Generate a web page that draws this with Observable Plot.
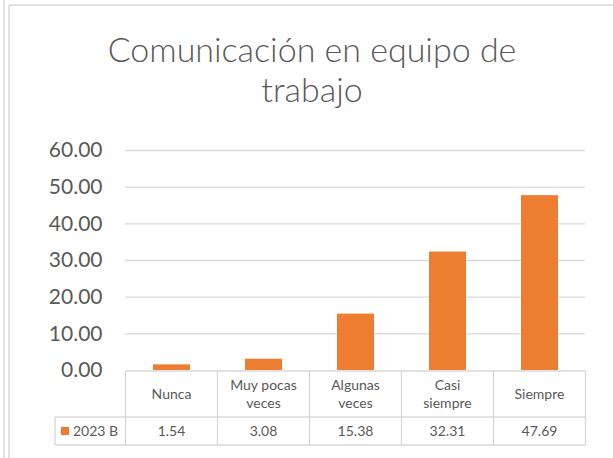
<!DOCTYPE html>
<html><head><meta charset="utf-8">
<script src="https://cdn.jsdelivr.net/npm/d3@7"></script>
<script src="https://cdn.jsdelivr.net/npm/@observablehq/plot@0.6"></script>
<style>
html,body{margin:0;padding:0;background:#fff;}
#wrap{position:relative;width:613px;height:458px;overflow:hidden;background:#fff;}
#wrap svg{display:block;}
</style></head><body><div id="wrap"></div>
<script>
const categories = ["Nunca","Muy pocas veces","Algunas veces","Casi siempre","Siempre"];
const headerLines = [["Nunca"],["Muy pocas","veces"],["Algunas","veces"],["Casi","siempre"],["Siempre"]];
const values = [1.54, 3.08, 15.38, 32.31, 47.69];
const seriesName = "2023 B";
const yTicks = [0, 10, 20, 30, 40, 50, 60];
const titleLines = ["Comunicación en equipo de", "trabajo"];

const data = categories.map((c, i) => ({category: c, value: values[i]}));
const W = 613, H = 458;
const font = "Lato, 'Open Sans', sans-serif";
const gray = "#595959", lineColor = "#d9d9d9", orange = "#ED7D31";
const fmt = d3.format(".2f");

const chart = Plot.plot({
  width: W, height: H,
  marginLeft: 125, marginRight: 28, marginTop: 150, marginBottom: 88,
  style: {fontFamily: font, background: "transparent", color: gray, fontSize: "21px"},
  x: {domain: categories, paddingInner: 0.6, paddingOuter: 0.3, axis: null},
  y: {domain: [0, 60], label: null},
  marks: [
    Plot.gridY(yTicks.filter(d => d > 0), {stroke: lineColor, strokeOpacity: 1, strokeWidth: 1.4}),
    Plot.axisY(yTicks, {tickSize: 0, tickPadding: 23, fontSize: 21, fill: gray, label: null, tickFormat: fmt}),
    Plot.barY(data, {x: "category", y: "value", fill: orange})
  ]
});
document.getElementById("wrap").appendChild(chart);

const svg = d3.select(chart);
const xs = chart.scale("x");
const ys = chart.scale("y");
const step = xs.step ?? xs.bandwidth / 0.4;
const y0 = ys.apply(0);
const centers = categories.map(c => xs.apply(c) + xs.bandwidth / 2);
const leftEdge = centers[0] - step / 2;
const rightEdge = centers[centers.length - 1] + step / 2;
const rowTop = y0 + 1, rowMid = y0 + 47, rowBot = y0 + 75;
const legendLeft = 55;

const g = svg.append("g").attr("stroke", lineColor).attr("stroke-width", 1.4).attr("fill", "none");
// chart border + outer line
g.append("line").attr("x1", 4).attr("x2", 4).attr("y1", 0).attr("y2", H);
g.append("line").attr("x1", 9).attr("x2", 9).attr("y1", 5).attr("y2", H);
g.append("line").attr("x1", 9).attr("x2", W).attr("y1", 5).attr("y2", 5);
// table lines
g.append("line").attr("x1", leftEdge).attr("x2", rightEdge).attr("y1", rowTop).attr("y2", rowTop);
g.append("line").attr("x1", legendLeft).attr("x2", rightEdge).attr("y1", rowMid).attr("y2", rowMid);
g.append("line").attr("x1", legendLeft).attr("x2", rightEdge).attr("y1", rowBot).attr("y2", rowBot);
g.append("line").attr("x1", legendLeft).attr("x2", legendLeft).attr("y1", rowMid).attr("y2", rowBot);
[leftEdge, ...centers.map(c => c + step / 2)].forEach(x => {
  g.append("line").attr("x1", x).attr("x2", x).attr("y1", rowTop).attr("y2", rowBot);
});

const t = svg.append("g").attr("fill", gray).attr("font-family", font).attr("text-anchor", "middle");
// header labels
headerLines.forEach((lines, i) => {
  const n = lines.length;
  const mid = (rowTop + rowMid) / 2;
  lines.forEach((s, j) => {
    t.append("text").attr("x", centers[i]).attr("y", mid + (j - (n - 1) / 2) * 18 + 5)
      .attr("font-size", 14).text(s);
  });
});
// values row
values.forEach((v, i) => {
  t.append("text").attr("x", centers[i]).attr("y", (rowMid + rowBot) / 2 + 5)
    .attr("font-size", 14).text(fmt(v));
});
// legend key
svg.append("rect").attr("x", 61).attr("y", (rowMid + rowBot) / 2 - 4).attr("width", 8).attr("height", 8).attr("fill", orange);
svg.append("text").attr("x", 73).attr("y", (rowMid + rowBot) / 2 + 5).attr("font-size", 14)
  .attr("text-anchor", "start").attr("fill", gray).attr("font-family", font).text(seriesName);
// title
titleLines.forEach((s, j) => {
  t.append("text").attr("x", 312).attr("y", 62 + j * 40).attr("font-size", 34)
    .attr("font-weight", 300).text(s);
});
</script></body></html>
